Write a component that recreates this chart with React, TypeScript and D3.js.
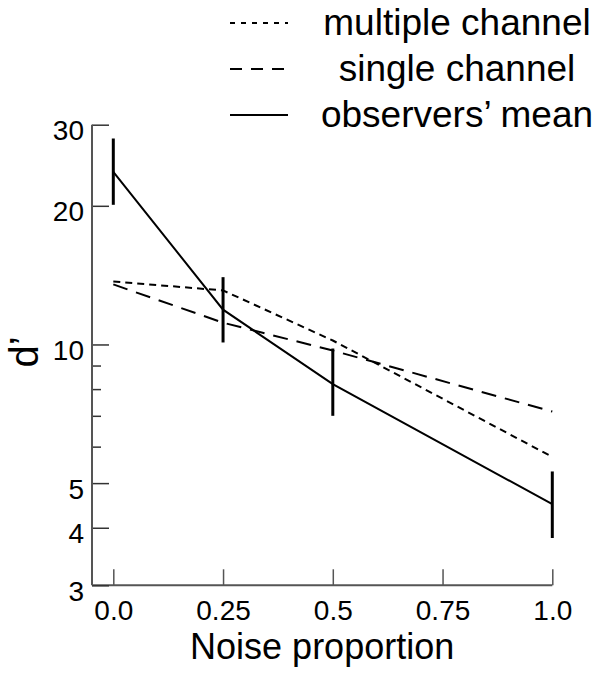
import React, { useEffect, useRef } from 'react';
import * as d3 from 'd3';

const noise = [0, 0.25, 0.5, 1.0];
const observersMean = [23.7, 11.9, 8.2, 4.5];
const errLow = [20.1, 10.1, 7.0, 3.8];
const errHigh = [28.0, 14.0, 9.8, 5.3];
const multipleChannel = [13.7, 13.1, 10.2, 5.7];
const singleChannel = [13.5, 11.15, 9.7, 7.15];

const xTicks = [0, 0.25, 0.5, 0.75, 1.0];
const xTickLabels = ['0.0', '0.25', '0.5', '0.75', '1.0'];
const yTicks = [3, 4, 5, 6, 7, 8, 9, 10, 20, 30];
const yLabelled = [3, 4, 5, 10, 20, 30];

const legendItems = ['multiple channel', 'single channel', 'observers’ mean'];

const FONT = '"Liberation Sans", Arial, Helvetica, sans-serif';

const App = () => {
  const svgRef = useRef<SVGSVGElement>(null);

  useEffect(() => {
    const svg = d3.select(svgRef.current);
    svg.selectAll('*').remove();

    const axisLeftX = 92;
    const x = d3.scaleLinear().domain([0, 1]).range([113.3, 552.3]);
    const y = d3.scaleLog().domain([3, 30]).range([585.3, 124.7]);
    const axisColor = '#555';

    // x axis
    const gx = svg.append('g').attr('transform', `translate(0,${y(3)})`);
    gx.call(
      d3.axisBottom(x)
        .tickValues(xTicks)
        .tickFormat((d, i) => xTickLabels[i])
        .tickSizeInner(-16)
        .tickSizeOuter(0)
    );
    gx.select('.domain').remove();
    gx.selectAll('line').attr('stroke', axisColor).attr('stroke-width', 1.5);
    gx.selectAll('text')
      .attr('dy', null)
      .attr('y', 35)
      .attr('font-family', FONT)
      .attr('font-size', 28)
      .attr('fill', '#000');
    gx.append('line')
      .attr('x1', axisLeftX).attr('x2', x(1))
      .attr('y1', 0).attr('y2', 0)
      .attr('stroke', axisColor).attr('stroke-width', 2);

    // y axis
    const gy = svg.append('g').attr('transform', `translate(${axisLeftX},0)`);
    gy.call(
      d3.axisLeft(y)
        .tickValues(yTicks)
        .tickFormat(d => (yLabelled.includes(+d) ? String(d) : ''))
        .tickSizeInner(-17)
        .tickSizeOuter(0)
        .tickPadding(8)
    );
    gy.select('.domain').remove();
    gy.selectAll('.tick line')
      .attr('stroke', '#333')
      .attr('stroke-width', 1.5)
      .attr('x2', (d: any) => (yLabelled.includes(+d) ? 17 : 9));
    gy.selectAll('text')
      .attr('dy', null)
      .attr('y', 15)
      .attr('font-family', FONT)
      .attr('font-size', 28)
      .attr('fill', '#000');
    gy.append('line')
      .attr('x1', 0).attr('x2', 0)
      .attr('y1', y(30)).attr('y2', y(3))
      .attr('stroke', axisColor).attr('stroke-width', 2);

    // axis titles
    svg.append('text')
      .attr('x', (axisLeftX + x(1)) / 2)
      .attr('y', 659)
      .attr('text-anchor', 'middle')
      .attr('font-family', FONT)
      .attr('font-size', 36)
      .text('Noise proportion');

    svg.append('text')
      .attr('transform', `translate(38,352) rotate(-90)`)
      .attr('text-anchor', 'middle')
      .attr('font-family', FONT)
      .attr('font-size', 40)
      .text('d’');

    // lines
    const line = d3.line<number>()
      .x((d, i) => x(noise[i]))
      .y(d => y(d));

    svg.append('path')
      .attr('d', line(multipleChannel))
      .attr('fill', 'none')
      .attr('stroke', '#000')
      .attr('stroke-width', 2)
      .attr('stroke-dasharray', '7,5');

    svg.append('path')
      .attr('d', line(singleChannel))
      .attr('fill', 'none')
      .attr('stroke', '#000')
      .attr('stroke-width', 2)
      .attr('stroke-dasharray', '15,9');

    svg.append('path')
      .attr('d', line(observersMean))
      .attr('fill', 'none')
      .attr('stroke', '#000')
      .attr('stroke-width', 2);

    // error bars
    svg.selectAll('.err')
      .data(noise)
      .join('line')
      .attr('class', 'err')
      .attr('x1', d => x(d)).attr('x2', d => x(d))
      .attr('y1', (d, i) => y(errHigh[i]))
      .attr('y2', (d, i) => y(errLow[i]))
      .attr('stroke', '#000')
      .attr('stroke-width', 3);

    // legend
    const dashes = ['5,6', '12,9', null];
    const legend = svg.selectAll('.legend')
      .data(legendItems)
      .join('g')
      .attr('class', 'legend')
      .attr('transform', (d, i) => `translate(0,${23 + i * 46})`);

    legend.append('line')
      .attr('x1', 230).attr('x2', 288)
      .attr('y1', 0).attr('y2', 0)
      .attr('stroke', '#000')
      .attr('stroke-width', 2)
      .attr('stroke-dasharray', (d, i) => dashes[i]);

    legend.append('text')
      .attr('x', 457)
      .attr('y', 12)
      .attr('text-anchor', 'middle')
      .attr('font-family', FONT)
      .attr('font-size', 37)
      .text(d => d);
  }, []);

  return (
    <svg
      ref={svgRef}
      width={602}
      height={675}
      style={{ position: 'absolute', left: 0, top: 0, background: '#fff' }}
    ></svg>
  );
};

export default App;
